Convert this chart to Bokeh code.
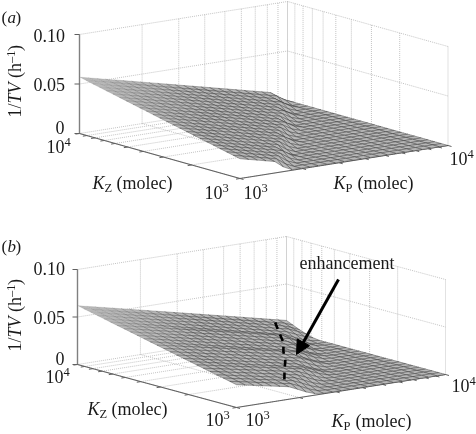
from bokeh.plotting import figure
from bokeh.models import Range1d, Arrow, NormalHead
from bokeh.core.properties import value
from bokeh.embed import file_html
from bokeh.resources import INLINE
import math

KP_TICKS = [1000, 2000, 3000, 4000, 5000, 6000, 7000, 8000, 9000, 10000]
KZ_TICKS = [1000, 2000, 3000, 4000, 5000, 6000, 7000, 8000, 9000, 10000]
Z_TICKS = [0.0, 0.05, 0.10]
Z_LABELS = ["0", "0.05", "0.10"]

# 1/TV in units of 1e-4 per hour. Rows: KZ from 10^3 up to 10^4; columns: KP from 10^3 up to 10^4.
SURFACE_A = [
[200,179,158,137,116,48,6,6,6,5,5,5,5,4,4,4,3,3,3,2,2,2,1,1,0],
[215,194,173,152,131,110,45,6,6,5,5,5,5,4,4,4,3,3,3,2,2,2,1,1,0],
[231,210,189,168,147,126,105,42,6,5,5,5,5,4,4,4,3,3,3,2,2,2,1,1,0],
[246,225,204,183,162,141,120,99,39,5,5,5,5,4,4,4,3,3,3,2,2,2,1,1,0],
[262,241,220,199,178,157,136,115,94,36,5,5,5,4,4,4,3,3,3,2,2,2,1,1,0],
[277,256,235,214,193,172,151,130,109,44,5,5,5,4,4,4,3,3,3,2,2,2,1,1,0],
[292,271,250,229,208,187,166,145,124,103,41,5,5,4,4,4,3,3,3,2,2,2,1,1,0],
[308,287,266,245,224,203,182,161,140,119,98,38,5,4,4,4,3,3,3,2,2,2,1,1,0],
[323,302,281,260,239,218,197,176,155,134,113,92,35,4,4,4,3,3,3,2,2,2,1,1,0],
[339,318,297,276,255,234,213,192,171,150,129,108,87,33,4,4,3,3,3,2,2,2,1,1,0],
[354,333,312,291,270,249,228,207,186,165,144,123,102,40,4,4,3,3,3,2,2,2,1,1,0],
[369,348,327,306,285,264,243,222,201,180,159,138,117,96,37,4,3,3,3,2,2,2,1,1,0],
[385,364,343,322,301,280,259,238,217,196,175,154,133,112,91,35,3,3,3,2,2,2,1,1,0],
[400,379,358,337,316,295,274,253,232,211,190,169,148,127,106,85,32,3,3,2,2,2,1,1,0],
[416,395,374,353,332,311,290,269,248,227,206,185,164,143,122,101,80,29,3,2,2,2,1,1,0],
[431,410,389,368,347,326,305,284,263,242,221,200,179,158,137,116,95,37,3,2,2,2,1,1,0],
[446,425,404,383,362,341,320,299,278,257,236,215,194,173,152,131,110,89,34,2,2,2,1,1,0],
[462,441,420,399,378,357,336,315,294,273,252,231,210,189,168,147,126,105,84,31,2,2,1,1,0],
[477,456,435,414,393,372,351,330,309,288,267,246,225,204,183,162,141,120,99,78,28,2,1,1,0],
[493,472,451,430,409,388,367,346,325,304,283,262,241,220,199,178,157,136,115,94,36,2,1,1,0],
[508,487,466,445,424,403,382,361,340,319,298,277,256,235,214,193,172,151,130,109,88,33,1,1,0],
[523,502,481,460,439,418,397,376,355,334,313,292,271,250,229,208,187,166,145,124,103,82,30,1,0],
[539,518,497,476,455,434,413,392,371,350,329,308,287,266,245,224,203,182,161,140,119,98,38,1,0],
[554,533,512,491,470,449,428,407,386,365,344,323,302,281,260,239,218,197,176,155,134,113,92,35,0],
[570,549,528,507,486,465,444,423,402,381,360,339,318,297,276,255,234,213,192,171,150,129,108,43,0],
]
SURFACE_B = [
[240,222,204,186,168,150,132,91,48,16,5,5,5,4,4,4,3,3,3,2,2,2,1,1,0],
[256,238,220,202,184,166,148,130,90,47,15,5,5,4,4,4,3,3,3,2,2,2,1,1,0],
[272,254,236,218,200,182,164,146,128,88,46,15,5,4,4,4,3,3,3,2,2,2,1,1,0],
[287,269,251,233,215,197,179,161,143,125,86,45,14,4,4,4,3,3,3,2,2,2,1,1,0],
[303,285,267,249,231,213,195,177,159,141,123,84,44,14,4,4,3,3,3,2,2,2,1,1,0],
[319,301,283,265,247,229,211,193,175,157,139,121,82,43,13,4,3,3,3,2,2,2,1,1,0],
[335,317,299,281,263,245,227,209,191,173,155,137,119,81,42,13,3,3,3,2,2,2,1,1,0],
[351,332,313,294,275,256,237,218,199,180,161,142,123,104,68,33,9,3,3,2,2,2,1,1,0],
[366,347,328,309,290,271,252,233,214,195,176,157,138,119,80,41,12,3,3,2,2,2,1,1,0],
[382,363,344,325,306,287,268,249,230,211,192,173,154,135,116,78,39,12,3,2,2,2,1,1,0],
[398,379,360,341,322,303,284,265,246,227,208,189,170,151,132,113,75,38,11,2,2,2,1,1,0],
[414,395,376,357,338,319,300,281,262,243,224,205,186,167,148,129,88,46,14,2,2,2,1,1,0],
[430,411,392,373,354,335,316,297,278,259,240,221,202,183,164,145,126,86,44,14,2,2,1,1,0],
[445,425,405,385,365,345,325,305,285,265,245,225,205,185,165,145,125,105,68,33,9,2,1,1,0],
[461,441,421,401,381,361,341,321,301,281,261,241,221,201,181,161,141,121,81,41,12,2,1,1,0],
[477,457,437,417,397,377,357,337,317,297,277,257,237,217,197,177,157,137,117,78,39,11,1,1,0],
[493,473,453,433,413,393,373,353,333,313,293,273,253,233,213,193,173,153,133,90,47,15,1,1,0],
[509,489,469,449,429,409,389,369,349,329,309,289,269,249,229,209,189,169,149,129,87,45,14,1,0],
[524,504,484,464,444,424,404,384,364,344,324,304,284,264,244,224,204,184,164,144,99,52,17,1,0],
[540,519,498,477,456,435,414,393,372,351,330,309,288,267,246,225,204,183,162,141,120,79,39,11,0],
[556,535,514,493,472,451,430,409,388,367,346,325,304,283,262,241,220,199,178,157,136,115,75,37,10],
[572,551,530,509,488,467,446,425,404,383,362,341,320,299,278,257,236,215,194,173,152,131,110,71,30],
[588,567,546,525,504,483,462,441,420,399,378,357,336,315,294,273,252,231,210,189,168,147,126,95,55],
[603,582,561,540,519,498,477,456,435,414,393,372,351,330,309,288,267,246,225,204,183,162,141,120,85],
[620,599,578,557,536,515,494,473,452,431,410,389,368,347,326,305,284,263,242,221,200,179,158,137,116],
]
# Dashed "enhancement" boundary on the surface of panel b
DASH_KP = [8375, 6607, 5218, 4169, 3396, 2630, 2080]
DASH_KZ = [9333, 6457, 4446, 3311, 2460, 1778, 1309]
DASH_Z = [0.0135, 0.0138, 0.0142, 0.0138, 0.0134, 0.0133, 0.0131]

SERIF = value("Liberation Serif")
MESH_FILL = "#b8b8b8"
MESH_LINE = "#383838"
WALL = "#bdbdbd"
AXIS = "#606060"
INK = "#1a1a1a"

p = figure(width=476, height=434, output_backend="svg", toolbar_location=None,
           x_range=Range1d(0, 476), y_range=Range1d(434, 0),
           x_axis_location=None, y_axis_location=None, min_border=0, outline_line_color=None)
p.grid.visible = False
p.styles = {"position": "fixed", "left": "0", "top": "0"}


def projector(L, R, B, zpx):
    def proj(kp, kz, z):
        u = math.log10(kp) - 3
        w = 4 - math.log10(kz)
        return (L[0] + (B[0] - L[0]) * u + (R[0] - B[0]) * w,
                L[1] + (B[1] - L[1]) * u + (R[1] - B[1]) * w - z / 0.1 * zpx)
    return proj


def seg(proj, a, b, **kw):
    p1, p2 = proj(*a), proj(*b)
    p.line([p1[0], p2[0]], [p1[1], p2[1]], **kw)


def label(x, y, s, size=18, style="normal", angle=0.0):
    # the rendered baseline sits lower than asked, by about 0.28 em: compensate
    off = 0.28 * size
    x -= off * math.sin(angle)
    y -= off * math.cos(angle)
    p.text([x], [y], text=[s], text_font=SERIF, text_font_size=value(f"{size}px"),
           text_font_style=style, text_color=INK, text_baseline="alphabetic",
           text_align="left", angle=angle)


def power(x, y, n):
    label(x, y, "10")
    label(x + 18, y - 6, n, 12.5)


def k_label(x, y, sub):
    label(x, y, "K", 18, "italic")
    label(x + 12, y + 3, sub, 12.5)
    label(x + 24, y, "(molec)")


def y_label(x, y):
    a = math.pi / 2
    label(x, y, "1/", 18, "normal", a)
    label(x, y - 14, "TV", 18, "italic", a)
    label(x, y - 39.5, "(h", 18, "normal", a)
    label(x - 6, y - 54.5, "\u20131", 12.5, "normal", a)
    label(x, y - 66.5, ")", 18, "normal", a)


def panel(L, R, B, zpx, table):
    proj = projector(L, R, B, zpx)
    wall = dict(line_color=WALL, line_width=0.9, line_dash="1 1")
    for t in KP_TICKS:
        seg(proj, (t, 10000, 0), (t, 10000, 0.10), **wall)
        seg(proj, (t, 10000, 0), (t, 1000, 0), **wall)
    for t in KZ_TICKS:
        seg(proj, (10000, t, 0), (10000, t, 0.10), **wall)
        seg(proj, (1000, t, 0), (10000, t, 0), **wall)
    for z in Z_TICKS[1:]:
        seg(proj, (1000, 10000, z), (10000, 10000, z), **wall)
        seg(proj, (10000, 10000, z), (10000, 1000, z), **wall)

    axis = dict(line_color=AXIS, line_width=1.2)
    seg(proj, (1000, 10000, 0), (1000, 10000, 0.10), line_color="#808080", line_width=1.4)
    seg(proj, (1000, 10000, 0), (1000, 1000, 0), **axis)
    seg(proj, (1000, 1000, 0), (10000, 1000, 0), **axis)
    for t in KZ_TICKS:
        a = proj(1000, t, 0)
        p.line([a[0], a[0] - 4], [a[1], a[1] + 0.6], line_color=AXIS, line_width=1)
    for t in KP_TICKS:
        a = proj(t, 1000, 0)
        p.line([a[0], a[0] + 3.5], [a[1], a[1] + 1], line_color=AXIS, line_width=1)
    for z in Z_TICKS:
        a = proj(1000, 10000, z)
        p.line([a[0], a[0] - 5], [a[1], a[1]], line_color=AXIS, line_width=1)

    nrow, ncol = len(table), len(table[0])
    xs, ys, alphas = [], [], []
    for r in range(nrow - 2, -1, -1):
        for c in range(ncol - 2, -1, -1):
            poly = []
            for rr, cc in ((r, c), (r, c + 1), (r + 1, c + 1), (r + 1, c)):
                kp = 1000 * 10 ** (cc / (ncol - 1))
                kz = 1000 * 10 ** (rr / (nrow - 1))
                poly.append(proj(kp, kz, table[rr][cc] * 1e-4))
            xs.append([q[0] for q in poly])
            ys.append([q[1] for q in poly])
            # mesh lines fade out towards the far left corner, as in the reference
            alphas.append(min(1.0, 0.12 + max(0.0, poly[0][0] - L[0]) / 140))
    p.patches(xs, ys, fill_color=MESH_FILL, line_color=MESH_LINE, line_width=0.42, line_alpha=alphas)
    return proj


proj_a = panel((79, 133), (447.5, 145), (287, 100), 99, SURFACE_A)
proj_b = panel((77, 364), (445, 374), (286, 331), 95, SURFACE_B)

# Dashed boundary and arrow in panel b
dash = [proj_b(a, b, c) for a, b, c in zip(DASH_KP, DASH_KZ, DASH_Z)]
p.line([q[0] for q in dash], [q[1] for q in dash], line_color="#000000", line_width=2.6, line_dash="7 6")
p.add_layout(Arrow(end=NormalHead(size=14, fill_color="#000000", line_color="#000000"),
                   x_start=338, y_start=279, x_end=296, y_end=354,
                   line_color="#000000", line_width=3))

# Panel a texts
label(1, 22, "(", 17)
label(7, 22, "a", 17, "italic")
label(15, 22, ")", 17)
label(33, 40, Z_LABELS[2]); label(33, 89.5, Z_LABELS[1]); label(55, 132, Z_LABELS[0])
y_label(20, 117)
power(46, 151, "4"); power(204, 197, "3"); power(243, 197, "3"); power(449, 163, "4")
k_label(92, 188, "Z"); k_label(333, 188, "P")

# Panel b texts
label(1, 251, "(", 17)
label(7, 251, "b", 17, "italic")
label(15, 251, ")", 17)
label(33, 273, Z_LABELS[2]); label(33, 322.5, Z_LABELS[1]); label(55, 363, Z_LABELS[0])
y_label(20, 351)
power(45, 381, "4"); power(205, 424, "3"); power(245, 424, "3"); power(451, 390, "4")
k_label(87, 414, "Z"); k_label(331, 426, "P")
label(299, 268, "enhancement")

open("out.html", "w").write(file_html(p, INLINE))
